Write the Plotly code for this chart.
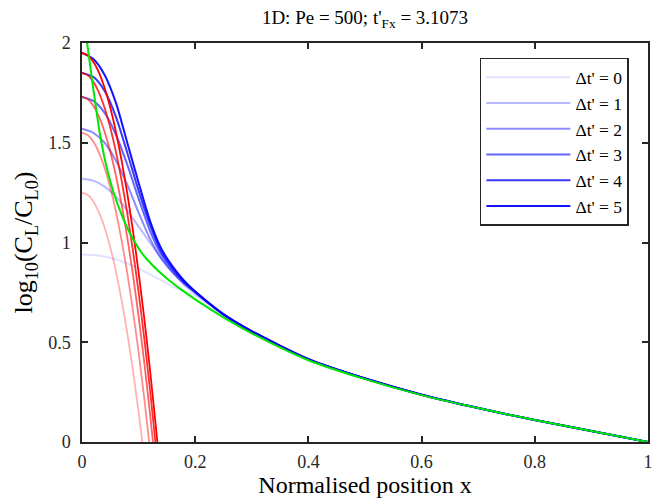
import plotly.graph_objects as go

# ---- data ----
blue_x = [0, 0.02, 0.04, 0.06, 0.08, 0.10, 0.12, 0.14, 0.16, 0.18, 0.20,
          0.25, 0.30, 0.40, 0.50, 0.60, 0.70, 0.80, 0.90, 1.00]
blue_tail = [0.64, 0.555, 0.415, 0.318, 0.237, 0.17, 0.11, 0.055, 0.0]

blue_dt0 = [0.94, 0.937, 0.93, 0.915, 0.895, 0.87, 0.84, 0.81, 0.78, 0.755, 0.735]
blue_dt1 = [1.32, 1.31, 1.28, 1.23, 1.16, 1.08, 1.00, 0.92, 0.85, 0.79, 0.745]
blue_dt2 = [1.57, 1.55, 1.50, 1.41, 1.29, 1.15, 1.02, 0.92, 0.85, 0.795, 0.75]
blue_dt3 = [1.73, 1.71, 1.65, 1.54, 1.39, 1.22, 1.06, 0.94, 0.86, 0.80, 0.752]
blue_dt4 = [1.85, 1.83, 1.76, 1.63, 1.45, 1.26, 1.09, 0.955, 0.87, 0.805, 0.754]
blue_dt5 = [1.95, 1.92, 1.84, 1.70, 1.50, 1.30, 1.11, 0.97, 0.88, 0.81, 0.755]

legend_labels = ["Δt' = 0", "Δt' = 1", "Δt' = 2", "Δt' = 3", "Δt' = 4", "Δt' = 5"]
blue_alpha = [0.12, 0.28, 0.45, 0.6, 0.78, 0.92]

red1_x = [0, 0.01, 0.02, 0.03, 0.04, 0.05, 0.06, 0.07, 0.08, 0.09, 0.10, 0.1066]
red1_y = [1.25, 1.239, 1.206, 1.151, 1.074, 0.975, 0.854, 0.711, 0.546, 0.359, 0.15, 0.0]
red2_x = [0, 0.01, 0.02, 0.03, 0.04, 0.05, 0.06, 0.07, 0.08, 0.09, 0.10, 0.11, 0.1187]
red2_y = [1.55, 1.539, 1.506, 1.451, 1.374, 1.275, 1.154, 1.011, 0.846, 0.659, 0.45, 0.219, 0.0]
red3_x = [0, 0.01, 0.02, 0.03, 0.04, 0.05, 0.06, 0.07, 0.08, 0.09, 0.10, 0.11, 0.12, 0.1254]
red3_y = [1.73, 1.719, 1.686, 1.631, 1.554, 1.455, 1.334, 1.191, 1.026, 0.839, 0.63, 0.399, 0.146, 0.0]
red4_x = [0, 0.01, 0.02, 0.03, 0.04, 0.05, 0.06, 0.07, 0.08, 0.09, 0.10, 0.11, 0.12, 0.1297]
red4_y = [1.85, 1.839, 1.806, 1.751, 1.674, 1.575, 1.454, 1.311, 1.146, 0.959, 0.75, 0.519, 0.266, 0.0]
red5_x = [0, 0.01, 0.02, 0.03, 0.04, 0.05, 0.06, 0.07, 0.08, 0.09, 0.10, 0.11, 0.12, 0.13, 0.1331]
red5_y = [1.95, 1.939, 1.906, 1.851, 1.774, 1.675, 1.554, 1.411, 1.246, 1.059, 0.85, 0.619, 0.366, 0.091, 0.0]
red_alpha = [0.3, 0.45, 0.62, 0.82, 1.0]

green_x = [0, 0.009, 0.02, 0.033, 0.045, 0.057, 0.07, 0.084, 0.105, 0.125, 0.15,
           0.175, 0.2, 0.25, 0.3, 0.4, 0.5, 0.6, 0.7, 0.8, 0.9, 1.0]
green_y = [2.15, 2.0, 1.77, 1.52, 1.36, 1.24, 1.14, 1.05, 0.95, 0.885, 0.82,
           0.765, 0.715, 0.625, 0.545, 0.41, 0.315, 0.235, 0.17, 0.11, 0.055, 0.0]

x_ticks = [0, 0.2, 0.4, 0.6, 0.8, 1]
x_tick_text = ["0", "0.2", "0.4", "0.6", "0.8", "1"]
y_ticks = [0, 0.5, 1, 1.5, 2]
y_tick_text = ["0", "0.5", "1", "1.5", "2"]

FONT = "Liberation Serif, Times New Roman, serif"
AX = "#262626"

fig = go.Figure()

blues = [blue_dt0, blue_dt1, blue_dt2, blue_dt3, blue_dt4, blue_dt5]
for i, head in enumerate(blues):
    tail = list(blue_tail)
    if i == 0:
        tail[0] = 0.635
    fig.add_trace(go.Scatter(
        x=blue_x, y=head + tail, mode="lines", name=legend_labels[i],
        line=dict(color=f"rgba(0,0,255,{blue_alpha[i]})", width=2, shape="spline", smoothing=0.7),
        showlegend=True))

reds = [(red1_x, red1_y), (red2_x, red2_y), (red3_x, red3_y), (red4_x, red4_y), (red5_x, red5_y)]
for i, (rx, ry) in enumerate(reds):
    fig.add_trace(go.Scatter(
        x=rx, y=ry, mode="lines",
        line=dict(color=f"rgba(255,0,0,{red_alpha[i]})", width=1.8, shape="spline", smoothing=0.5),
        showlegend=False))

fig.add_trace(go.Scatter(
    x=green_x, y=green_y, mode="lines",
    line=dict(color="rgb(0,230,0)", width=2, shape="spline", smoothing=0.8),
    showlegend=False))

axis_common = dict(
    showline=True, linecolor=AX, linewidth=1.5, mirror="ticks",
    ticks="inside", ticklen=6, tickwidth=1.5, tickcolor=AX,
    showgrid=False, zeroline=False,
    tickfont=dict(family=FONT, size=18, color=AX),
)

fig.update_layout(
    width=662, height=498,
    margin=dict(l=82, r=9, t=43, b=55),
    paper_bgcolor="white", plot_bgcolor="white",
    title=dict(text="1D: Pe = 500; t'<sub>Fx</sub> = 3.1073",
               x=0.5, xref="paper", xanchor="center",
               y=0.978, yref="container", yanchor="top",
               font=dict(family=FONT, size=19, color="black")),
    xaxis=dict(range=[0, 1], tickvals=x_ticks, ticktext=x_tick_text,
               ticklabelstandoff=3,
               title=dict(text="Normalised position x", standoff=0,
                          font=dict(family=FONT, size=24, color="black")),
               **axis_common),
    yaxis=dict(range=[0, 2], tickvals=y_ticks, ticktext=y_tick_text,
               ticklabelstandoff=6,
               title=dict(text="log<sub>10</sub>(C<sub>L</sub>/C<sub>L0</sub>)", standoff=8,
                          font=dict(family=FONT, size=26, color="black")),
               **axis_common),
    legend=dict(x=0.703, y=0.9625, xanchor="left", yanchor="top",
                bgcolor="white", bordercolor=AX, borderwidth=1.5,
                font=dict(family=FONT, size=17.5, color="black"),
                itemwidth=84, tracegroupgap=0),
)

fig.write_html("out.html")
